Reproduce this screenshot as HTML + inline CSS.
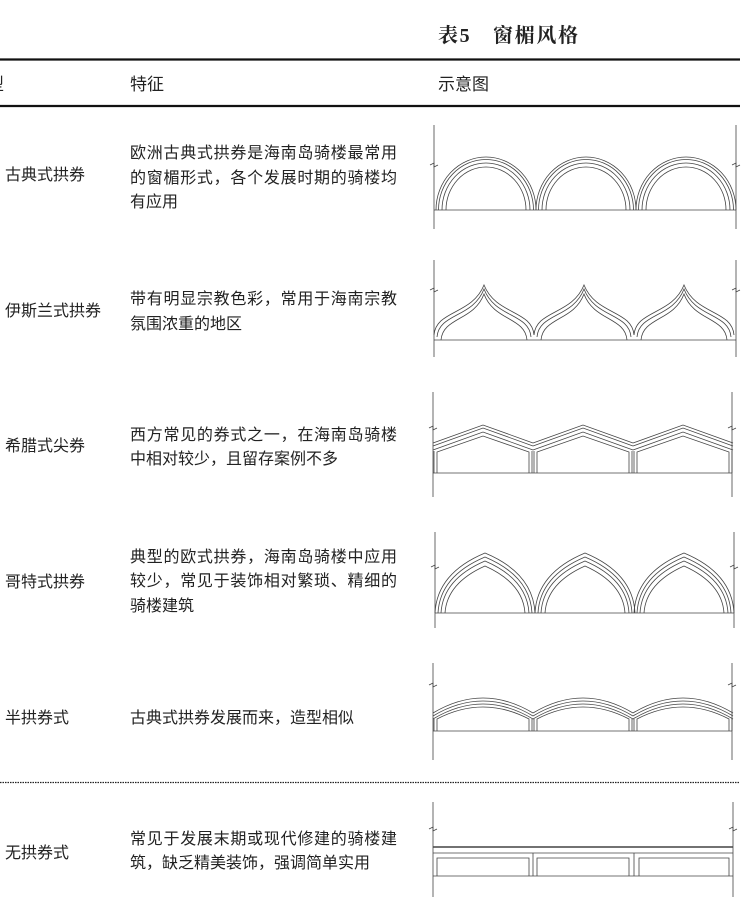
<!DOCTYPE html>
<html><head><meta charset="utf-8"><style>
html,body{margin:0;padding:0;background:#fff;width:749px;height:914px;overflow:hidden}
svg{display:block}
text{font-family:"Liberation Sans","Noto Sans CJK SC",sans-serif;fill:#222}
.t{font-size:16px}
</style></head><body>
<svg width="749" height="914" viewBox="0 0 749 914" xmlns="http://www.w3.org/2000/svg">
<defs>
<g id="a1" fill="none" stroke="#444" stroke-width="0.8">
<path d="M-50 0A50 53 0 0 1 50 0"/><path d="M-47.5 0A47.5 50.5 0 0 1 47.5 0"/>
<path d="M-44 0A44 47 0 0 1 44 0"/><path d="M-40 0A40 43 0 0 1 40 0"/>
</g>
<g id="a2" fill="none" stroke="#444" stroke-width="0.8">
<path d="M-50 -5C-48 -30 -12 -25 0 -55C12 -25 48 -30 50 -5"/>
<path d="M-47 -3C-45 -27 -11 -22 0 -51C11 -22 45 -27 47 -3"/>
<path d="M-43 0C-41 -23 -10 -19 0 -46C10 -19 41 -23 43 0"/>
</g>
<g id="a3" fill="none" stroke="#444" stroke-width="0.8">
<path d="M-50 -30L0 -48L50 -30"/><path d="M-50 -27L0 -45L50 -27"/>
<path d="M-50 -23L0 -41L50 -23"/>
<path d="M-46 0L-46 -21L0 -37L46 -21L46 0"/><path d="M-49 0L-49 -22"/><path d="M49 0L49 -22"/>
</g>
<g id="a4" fill="none" stroke="#444" stroke-width="0.8">
<path d="M-50 0Q-48 -40 0 -60Q48 -40 50 0"/><path d="M-47 0Q-45 -37 0 -56Q45 -37 47 0"/>
<path d="M-44 0Q-42 -34 0 -52Q42 -34 44 0"/><path d="M-40 0Q-38 -30 0 -47Q38 -30 40 0"/>
</g>
<g id="a5" fill="none" stroke="#444" stroke-width="0.8">
<path d="M-50 -18Q0 -48 50 -18"/><path d="M-50 -15Q0 -45 50 -15"/><path d="M-50 -12Q0 -42 50 -12"/>
<path d="M-46 0L-46 -12Q0 -36 46 -12L46 0"/><path d="M-49 0L-49 -12"/><path d="M49 0L49 -12"/>
</g>
</defs>

<text x="438" y="42" textLength="140" style="font-family:'Liberation Serif','Noto Serif CJK SC',serif;font-size:20px;font-weight:bold">表5　窗楣风格</text>
<line x1="0" y1="59.5" x2="740" y2="59.5" stroke="#111" stroke-width="2.2"/>
<text x="-13" y="90" style="font-size:17px">型</text>
<text x="130" y="90" style="font-size:17px">特征</text>
<text x="438" y="90" style="font-size:17px">示意图</text>
<line x1="0" y1="106" x2="740" y2="106" stroke="#111" stroke-width="2.2"/>

<g class="t">
<text x="5" y="180">古典式拱券</text>
<text x="130" y="158" textLength="267">欧洲古典式拱券是海南岛骑楼最常用</text>
<text x="130" y="183" textLength="267">的窗楣形式，各个发展时期的骑楼均</text>
<text x="130" y="207">有应用</text>

<text x="5" y="316">伊斯兰式拱券</text>
<text x="130" y="304" textLength="267">带有明显宗教色彩，常用于海南宗教</text>
<text x="130" y="329">氛围浓重的地区</text>

<text x="5" y="451">希腊式尖券</text>
<text x="130" y="440" textLength="267">西方常见的券式之一，在海南岛骑楼</text>
<text x="130" y="464">中相对较少，且留存案例不多</text>

<text x="5" y="587">哥特式拱券</text>
<text x="130" y="562" textLength="267">典型的欧式拱券，海南岛骑楼中应用</text>
<text x="130" y="586" textLength="267">较少，常见于装饰相对繁琐、精细的</text>
<text x="130" y="611">骑楼建筑</text>

<text x="5" y="723">半拱券式</text>
<text x="130" y="723">古典式拱券发展而来，造型相似</text>

<text x="5" y="858">无拱券式</text>
<text x="130" y="844" textLength="267">常见于发展末期或现代修建的骑楼建</text>
<text x="130" y="868">筑，缺乏精美装饰，强调简单实用</text>
</g>

<line x1="0" y1="782.5" x2="740" y2="782.5" stroke="#222" stroke-width="1.3" stroke-dasharray="1.5 1"/>

<g stroke="#444" stroke-width="0.8" fill="none">
<line x1="434" y1="125" x2="434" y2="229"/><line x1="736" y1="125" x2="736" y2="229"/>
<line x1="434" y1="210" x2="736" y2="210"/>
<path d="M430 165l4-2 0 4 4-2"/><path d="M732 165l4-2 0 4 4-2"/>
<line x1="434" y1="260" x2="434" y2="357"/><line x1="736" y1="260" x2="736" y2="357"/>
<line x1="434" y1="340" x2="736" y2="340"/>
<path d="M430 290l4-2 0 4 4-2"/><path d="M732 290l4-2 0 4 4-2"/>
<line x1="433" y1="392" x2="433" y2="497"/><line x1="732" y1="392" x2="732" y2="497"/>
<line x1="433" y1="473" x2="732" y2="473"/>
<path d="M429 428l4-2 0 4 4-2"/><path d="M728 428l4-2 0 4 4-2"/>
<line x1="435" y1="532" x2="435" y2="628"/><line x1="734" y1="532" x2="734" y2="628"/>
<line x1="435" y1="613" x2="734" y2="613"/>
<path d="M431 567l4-2 0 4 4-2"/><path d="M730 567l4-2 0 4 4-2"/>
<line x1="433" y1="663" x2="433" y2="760"/><line x1="732" y1="663" x2="732" y2="760"/>
<line x1="433" y1="731" x2="732" y2="731"/>
<path d="M429 685l4-2 0 4 4-2"/><path d="M728 685l4-2 0 4 4-2"/>
<line x1="433" y1="802" x2="433" y2="897"/><line x1="733" y1="802" x2="733" y2="897"/>
<path d="M429 829l4-2 0 4 4-2"/><path d="M729 829l4-2 0 4 4-2"/>
<line x1="433" y1="847" x2="733" y2="847" stroke-width="1.6"/>
<line x1="433" y1="853" x2="733" y2="853"/>
<line x1="433" y1="876" x2="733" y2="876"/>
<path d="M437 876V858H529V876M537 876V858H629V876M639 876V858H729V876"/>
<line x1="533" y1="853" x2="533" y2="876"/><line x1="634" y1="853" x2="634" y2="876"/>
</g>

<use href="#a1" x="486" y="210"/><use href="#a1" x="586" y="210"/><use href="#a1" x="686" y="210"/>
<use href="#a2" x="484" y="340"/><use href="#a2" x="584" y="340"/><use href="#a2" x="684" y="340"/>
<use href="#a3" x="483" y="473"/><use href="#a3" x="583" y="473"/><use href="#a3" x="683" y="473"/>
<use href="#a4" x="485" y="613"/><use href="#a4" x="585" y="613"/><use href="#a4" x="684" y="613"/>
<use href="#a5" x="483" y="731"/><use href="#a5" x="583" y="731"/><use href="#a5" x="683" y="731"/>
</svg>
</body></html>
